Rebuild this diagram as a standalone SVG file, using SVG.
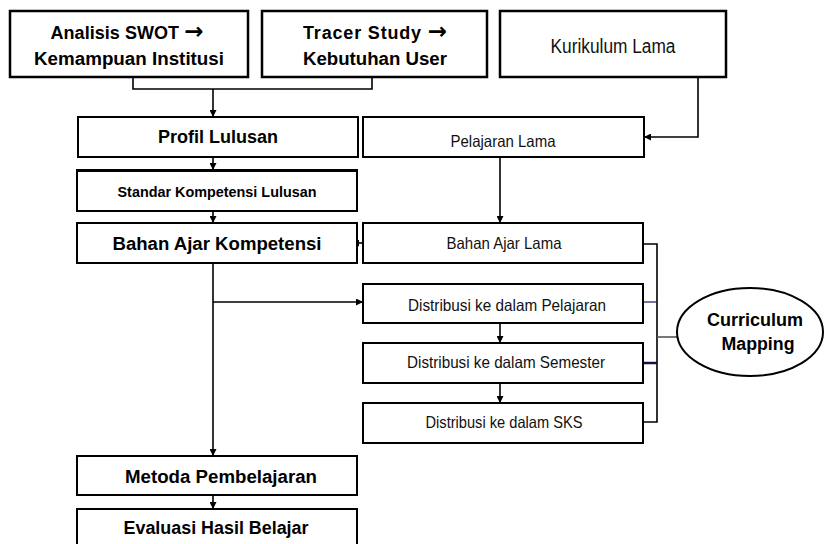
<svg xmlns="http://www.w3.org/2000/svg" width="825" height="544" viewBox="0 0 825 544">
<defs>
<marker id="ah" markerWidth="7" markerHeight="7" refX="6" refY="3.5" orient="auto" markerUnits="userSpaceOnUse">
<path d="M0,0 L7,3.5 L0,7 Z" fill="#000"/>
</marker>
<style>
.box{fill:#fff;stroke:#000;stroke-width:2}
.tbox{fill:#fff;stroke:#000;stroke-width:2.5}
.b{font-family:"Liberation Sans",Arial,sans-serif;font-weight:bold;fill:#000;text-anchor:middle}
.n{font-family:"Liberation Sans",Arial,sans-serif;fill:#111;text-anchor:middle}
.c{fill:none;stroke:#000;stroke-width:1.6}
.arr{font-family:"DejaVu Sans",sans-serif;font-weight:bold;fill:#000;font-size:23px}
</style>
</defs>
<rect width="825" height="544" fill="#fff"/>
<g id="connectors">
<path class="c" d="M133 77 V89 H372 V77"/>
<path class="c" d="M213 89 V116" marker-end="url(#ah)"/>
<path class="c" d="M698 77 V137 H645" marker-end="url(#ah)"/>
<path class="c" d="M213 157 V169" marker-end="url(#ah)"/>
<path class="c" d="M213 211 V222" marker-end="url(#ah)"/>
<path class="c" d="M500 157 V222" marker-end="url(#ah)"/>
<path class="c" d="M363 243 H353" marker-end="url(#ah)"/>
<path class="c" d="M213 263 V455" stroke-width="2" marker-end="url(#ah)"/>
<path class="c" d="M213 302 H362" stroke-width="1" marker-end="url(#ah)"/>
<path class="c" d="M500 323 V342" marker-end="url(#ah)"/>
<path class="c" d="M500 383 V402" marker-end="url(#ah)"/>
<path class="c" d="M643 244 H657 V422 H643"/>
<path d="M643 302 H657" stroke="#1a1a5a" stroke-width="1.2" fill="none"/>
<path d="M643 363 H657" stroke="#10104a" stroke-width="2.5" fill="none"/>
<path d="M657 337 H678" stroke="#555" stroke-width="1.6" fill="none"/>
<path class="c" d="M213 495 V508" marker-end="url(#ah)"/>
</g>
<g id="swot">
<rect class="tbox" x="10" y="11" width="238" height="66"/>
<text class="b" x="127" y="39" font-size="18" textLength="153" lengthAdjust="spacing">Analisis SWOT <tspan class="arr">→</tspan></text>
<text class="b" x="129" y="65" font-size="18" textLength="190" lengthAdjust="spacingAndGlyphs">Kemampuan Institusi</text>
</g>
<g id="tracer">
<rect class="tbox" x="262" y="11" width="225" height="66"/>
<text class="b" x="375" y="39" font-size="18" textLength="144" lengthAdjust="spacing">Tracer Study <tspan class="arr">→</tspan></text>
<text class="b" x="375" y="65" font-size="18" textLength="144" lengthAdjust="spacingAndGlyphs">Kebutuhan User</text>
</g>
<g id="kurikulum">
<rect class="tbox" x="500" y="11" width="226" height="66"/>
<text class="n" x="613" y="53" font-size="20" textLength="125" lengthAdjust="spacingAndGlyphs">Kurikulum Lama</text>
</g>
<g id="profil">
<rect class="box" x="78" y="117" width="280" height="40"/>
<text class="b" x="218" y="143" font-size="18" textLength="120" lengthAdjust="spacingAndGlyphs">Profil Lulusan</text>
</g>
<g id="pelajaran-lama">
<rect class="box" x="363" y="117" width="281" height="40"/>
<text class="n" x="503" y="147" font-size="16.5" textLength="105" lengthAdjust="spacingAndGlyphs">Pelajaran Lama</text>
</g>
<g id="standar">
<rect class="box" x="77" y="170" width="280" height="41"/>
<path d="M77 170.5 H357" stroke="#000" stroke-width="3"/>
<text class="b" x="217" y="197" font-size="15" textLength="199" lengthAdjust="spacingAndGlyphs">Standar Kompetensi Lulusan</text>
</g>
<g id="bahan-kompetensi">
<rect class="box" x="77" y="223" width="280" height="40"/>
<text class="b" x="217" y="250" font-size="18" textLength="209" lengthAdjust="spacingAndGlyphs">Bahan Ajar Kompetensi</text>
</g>
<g id="bahan-lama">
<rect class="box" x="363" y="223" width="280" height="40"/>
<text class="n" x="504" y="249" font-size="16.5" textLength="115" lengthAdjust="spacingAndGlyphs">Bahan Ajar Lama</text>
</g>
<g id="dist-pelajaran">
<rect class="box" x="363" y="284" width="280" height="39"/>
<text class="n" x="507" y="311" font-size="16.5" textLength="198" lengthAdjust="spacingAndGlyphs">Distribusi ke dalam Pelajaran</text>
</g>
<g id="dist-semester">
<rect class="box" x="363" y="343" width="280" height="40"/>
<text class="n" x="506" y="368" font-size="16.5" textLength="198" lengthAdjust="spacingAndGlyphs">Distribusi ke dalam Semester</text>
</g>
<g id="dist-sks">
<rect class="box" x="363" y="403" width="280" height="40"/>
<text class="n" x="504" y="428" font-size="16.5" textLength="157" lengthAdjust="spacingAndGlyphs">Distribusi ke dalam SKS</text>
</g>
<g id="curriculum-mapping">
<ellipse cx="750" cy="332" rx="73" ry="44" fill="#fff" stroke="#000" stroke-width="2"/>
<text class="b" x="755" y="326" font-size="18" textLength="96" lengthAdjust="spacingAndGlyphs">Curriculum</text>
<text class="b" x="758" y="350" font-size="18" textLength="73" lengthAdjust="spacingAndGlyphs">Mapping</text>
</g>
<g id="metoda">
<rect class="box" x="77" y="456" width="280" height="39"/>
<text class="b" x="221" y="483" font-size="18" textLength="192" lengthAdjust="spacingAndGlyphs">Metoda Pembelajaran</text>
</g>
<g id="evaluasi">
<rect class="box" x="77" y="509" width="280" height="45"/>
<text class="b" x="216" y="534" font-size="18" textLength="185" lengthAdjust="spacingAndGlyphs">Evaluasi Hasil Belajar</text>
</g>
</svg>
